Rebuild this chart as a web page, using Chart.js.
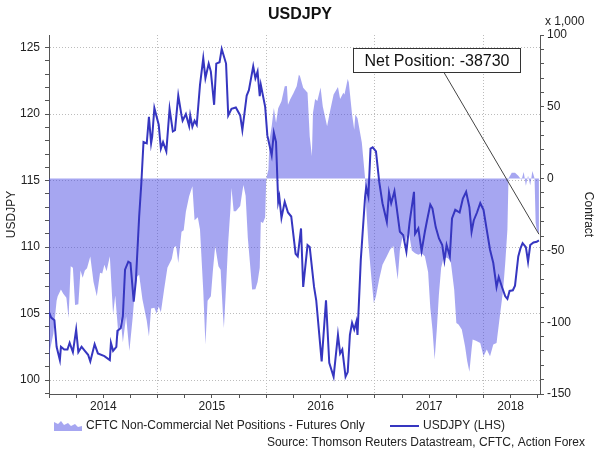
<!DOCTYPE html>
<html>
<head>
<meta charset="utf-8">
<title>USDJPY</title>
<script src="https://cdn.jsdelivr.net/npm/chart.js@4.4.1/dist/chart.umd.min.js"></script>
<style>
  html, body { margin: 0; padding: 0; background: #fff; }
  #wrap { width: 600px; height: 455px; position: relative; }
</style>
</head>
<body>
<div id="wrap"><canvas id="chart"></canvas></div>
<script>
// USDJPY spot (left axis), dates as decimal years
const usdjpyDates = [
  2014.00, 2014.02, 2014.05, 2014.07, 2014.10, 2014.11, 2014.14, 2014.17, 2014.19, 2014.22,
  2014.25, 2014.27, 2014.30, 2014.33, 2014.36, 2014.38, 2014.42, 2014.45, 2014.51, 2014.56,
  2014.57, 2014.59, 2014.62, 2014.63, 2014.66, 2014.68, 2014.70, 2014.73, 2014.75, 2014.78,
  2014.80, 2014.83, 2014.85, 2014.87, 2014.90, 2014.92, 2014.94, 2014.95, 2014.97, 2015.01,
  2015.03, 2015.05, 2015.08, 2015.11, 2015.14, 2015.16, 2015.19, 2015.22, 2015.23, 2015.26,
  2015.29, 2015.30, 2015.32, 2015.34, 2015.36, 2015.39, 2015.42, 2015.44, 2015.47, 2015.49,
  2015.52, 2015.54, 2015.57, 2015.59, 2015.63, 2015.65, 2015.68, 2015.72, 2015.76, 2015.78,
  2015.82, 2015.84, 2015.88, 2015.90, 2015.92, 2015.94, 2015.95, 2015.99, 2016.01, 2016.05,
  2016.07, 2016.09, 2016.11, 2016.12, 2016.14, 2016.17, 2016.20, 2016.23, 2016.27, 2016.29,
  2016.32, 2016.34, 2016.38, 2016.40, 2016.44, 2016.46, 2016.51, 2016.55, 2016.58, 2016.62,
  2016.66, 2016.68, 2016.70, 2016.73, 2016.75, 2016.77, 2016.79, 2016.81, 2016.83, 2016.84,
  2016.87, 2016.91, 2016.92, 2016.94, 2016.96, 2016.98, 2017.01, 2017.04, 2017.07, 2017.11,
  2017.13, 2017.15, 2017.18, 2017.20, 2017.23, 2017.26, 2017.29, 2017.32, 2017.36, 2017.37,
  2017.40, 2017.43, 2017.46, 2017.48, 2017.51, 2017.53, 2017.56, 2017.59, 2017.62, 2017.64,
  2017.66, 2017.69, 2017.71, 2017.74, 2017.78, 2017.81, 2017.84, 2017.87, 2017.89, 2017.91,
  2017.94, 2017.97, 2018.00, 2018.03, 2018.06, 2018.09, 2018.12, 2018.14, 2018.17, 2018.20,
  2018.22, 2018.24, 2018.27, 2018.29, 2018.32, 2018.34, 2018.36, 2018.39, 2018.41, 2018.43,
  2018.46, 2018.49, 2018.51
];
const usdjpyValues = [
  105.1, 104.7, 104.5, 102.5, 101.5, 102.5, 102.3, 102.3, 102.8, 102.1,
  103.8, 102.1, 102.5, 102.2, 101.9, 101.4, 102.7, 102.0, 101.8, 101.5,
  102.8, 102.2, 102.5, 103.7, 103.9, 104.8, 108.3, 108.9, 108.8, 105.9,
  107.5, 112.3, 114.8, 117.9, 117.8, 119.8, 117.8, 118.3, 120.45, 119.2,
  117.4, 117.9, 117.2, 120.4, 118.7, 118.8, 121.4, 119.9, 119.5, 120.0,
  119.1, 119.9, 119.05, 119.5, 119.2, 122.2, 124.2, 122.7, 123.8, 123.2,
  120.7, 123.8, 123.9, 124.9, 123.8, 119.9, 120.4, 120.5, 119.9, 118.8,
  121.4, 121.8, 123.6, 122.7, 123.2, 121.35, 122.2, 120.55, 118.4, 116.9,
  118.6, 117.9, 113.4, 113.8, 112.2, 113.4, 112.6, 112.3, 109.5, 109.3,
  111.4, 107.0, 110.15, 110.0, 107.0, 106.0, 101.4, 106.0, 101.3, 100.25,
  103.4, 102.0, 102.3, 100.25, 100.6, 103.4, 104.3, 103.8, 104.4, 103.4,
  109.0, 113.8, 114.5, 113.8, 117.4, 117.5, 117.2, 114.9, 113.3, 111.9,
  114.1, 113.3, 114.2, 113.0, 111.15, 110.9, 109.65, 111.9, 114.15, 111.0,
  111.4, 109.7, 111.15, 112.0, 113.2, 112.9, 111.5, 110.65, 110.15, 109.0,
  110.15, 109.3, 112.15, 112.8, 112.6, 113.65, 114.15, 113.0, 111.15, 112.0,
  112.6, 113.3, 112.8, 111.3, 109.8, 108.8, 107.0, 107.75, 107.0, 106.3,
  106.1, 106.7, 106.75, 107.1, 109.3, 109.9, 110.3, 110.0, 108.9, 110.15,
  110.35, 110.4, 110.5
];

// CFTC non-commercial net positions, thousands of contracts (right axis)
const cftcDates = [
  2014.00, 2014.01, 2014.04, 2014.07, 2014.08, 2014.11, 2014.13, 2014.16, 2014.18, 2014.20,
  2014.22, 2014.24, 2014.27, 2014.29, 2014.31, 2014.33, 2014.35, 2014.38, 2014.41, 2014.44,
  2014.47, 2014.49, 2014.51, 2014.53, 2014.56, 2014.59, 2014.61, 2014.64, 2014.66, 2014.68,
  2014.71, 2014.74, 2014.77, 2014.80, 2014.83, 2014.86, 2014.90, 2014.92, 2014.94, 2014.97,
  2014.99, 2015.01, 2015.03, 2015.06, 2015.09, 2015.13, 2015.15, 2015.17, 2015.19, 2015.22,
  2015.24, 2015.26, 2015.29, 2015.32, 2015.34, 2015.37, 2015.39, 2015.42, 2015.44, 2015.46,
  2015.49, 2015.51, 2015.53, 2015.56, 2015.58, 2015.60, 2015.61, 2015.63, 2015.65, 2015.67,
  2015.68, 2015.70, 2015.72, 2015.76, 2015.78, 2015.79, 2015.81, 2015.83, 2015.85, 2015.87,
  2015.90, 2015.92, 2015.94, 2015.95, 2015.97, 2015.99, 2016.00, 2016.02, 2016.03, 2016.05,
  2016.07, 2016.09, 2016.11, 2016.14, 2016.17, 2016.19, 2016.20, 2016.22, 2016.25, 2016.28,
  2016.30, 2016.31, 2016.34, 2016.38, 2016.40, 2016.42, 2016.43, 2016.45, 2016.47, 2016.50,
  2016.52, 2016.56, 2016.59, 2016.62, 2016.66, 2016.68, 2016.71, 2016.72, 2016.75, 2016.76,
  2016.79, 2016.81, 2016.82, 2016.84, 2016.88, 2016.91, 2016.92, 2016.94, 2016.97, 2016.99,
  2017.01, 2017.04, 2017.07, 2017.11, 2017.14, 2017.17, 2017.19, 2017.21, 2017.23, 2017.26,
  2017.28, 2017.31, 2017.34, 2017.37, 2017.40, 2017.43, 2017.46, 2017.49, 2017.51, 2017.53,
  2017.55, 2017.57, 2017.59, 2017.61, 2017.63, 2017.66, 2017.68, 2017.70, 2017.73, 2017.75,
  2017.77, 2017.80, 2017.83, 2017.85, 2017.87, 2017.89, 2017.90, 2017.93, 2017.97, 2018.00,
  2018.03, 2018.06, 2018.09, 2018.12, 2018.15, 2018.18, 2018.20, 2018.22, 2018.23, 2018.26,
  2018.29, 2018.32, 2018.35, 2018.37, 2018.39, 2018.41, 2018.43, 2018.45, 2018.47, 2018.48,
  2018.49, 2018.51
];
const cftcValues = [
  -132, -119, -108, -85, -82, -77.3, -80, -83, -97, -61,
  -62, -88, -87.5, -64, -69, -64, -62.5, -54.3, -72, -82,
  -65.5, -66, -60, -64.5, -54, -94.7, -81.4, -110, -98, -114,
  -96, -120, -97, -69, -67, -84, -99, -110, -90.5, -90,
  -94, -89, -93, -77, -62, -56, -48, -47, -58.7, -37,
  -36, -23, -12.3, -5.4, -29, -27, -35.5, -78, -115.5, -85,
  -82, -63, -47, -61, -63.4, -93, -104, -75, -44, -21.6,
  -6.5, -22.7, -22.7, -19, -9, -4.5, -12, -41, -59, -77.3,
  -77, -72, -62, -30, -31, -27, 0, 6.3, 27, 36.4,
  49.2, 38.8, 49, 53.8, 64.3, 64.5, 51.5, 55, 59.4, 64.3,
  72.4, 71.5, 63.2, 59.7, 29.5, 15.5, 45.7, 55.5, 54, 63.5,
  50.4, 36.4, 48, 58.5, 63.8, 55.5, 59.7, 58.5, 69.4, 67,
  44.6, 34.1, 44.6, 42, 25, 0, -20, -45, -71, -86.6,
  -82, -70, -60, -54, -49.4, -47, -58.7, -70.3, -50, -38,
  -44, -36, -50, -52, -53, -52, -54, -65, -90, -105,
  -126, -105, -80, -62, -56, -55, -56, -58.7, -77.3, -100.5,
  -101.6, -105, -116.8, -127.2, -134.5, -119, -112, -113, -114.4, -123.7,
  -119, -123.7, -115.6, -114.4, -96, -78, -58.7, -35.5, 0, 4,
  4, 2, -1, 4.6, -5, 2, -4.6, 5.3, 0, -31,
  -35.5, -38.73
];

// axis labels
const yearLabels = ['2014', '2015', '2016', '2017', '2018'];
const yearLabelAt = [2014.5, 2015.5, 2016.5, 2017.5, 2018.25];
const leftTickLabels = [100, 105, 110, 115, 120, 125];
const rightTickLabels = [-150, -100, -50, 0, 50, 100];

const FONT = "'Liberation Sans', Arial, sans-serif";
const LINE_COLOR = '#3636c0';
const FILL_COLOR = 'rgba(70, 70, 225, 0.48)';
const GRID_COLOR = '#bcbcbc';
const AXIS_COLOR = '#555';
const TEXT_COLOR = '#222';

Chart.defaults.font.family = FONT;
Chart.defaults.font.size = 12;
Chart.defaults.color = TEXT_COLOR;

const toPoints = (dates, values) => dates.map((d, i) => ({ x: d, y: values[i] }));

// range of values for tick marks
function range(from, to, step) {
  const out = [];
  for (let v = from; v <= to + 1e-9; v += step) out.push(Math.round(v * 100) / 100);
  return out;
}

const decorations = {
  id: 'decorations',
  afterDatasetsDraw(chart) {
    const { ctx, scales } = chart;
    const last = cftcValues.length - 1;
    const px = scales.x.getPixelForValue(cftcDates[last]);
    const py = scales.y1.getPixelForValue(cftcValues[last]);
    const box = { x: 353.5, y: 48.5, w: 167, h: 24 };

    ctx.save();
    ctx.strokeStyle = '#444';
    ctx.lineWidth = 1;
    ctx.beginPath();
    ctx.moveTo(444, box.y + box.h);
    ctx.lineTo(px, py);
    ctx.stroke();

    ctx.fillStyle = '#fff';
    ctx.fillRect(box.x, box.y, box.w, box.h);
    ctx.strokeStyle = '#333';
    ctx.strokeRect(box.x, box.y, box.w, box.h);
    ctx.fillStyle = '#111';
    ctx.font = '16px ' + FONT;
    ctx.textAlign = 'center';
    ctx.textBaseline = 'middle';
    ctx.fillText('Net Position: ' + Math.round(cftcValues[last] * 1000), box.x + box.w / 2, box.y + box.h / 2 + 1);
    ctx.restore();
  },
  afterDraw(chart) {
    const { ctx } = chart;
    ctx.save();
    ctx.fillStyle = '#111';
    ctx.font = 'bold 16px ' + FONT;
    ctx.textAlign = 'center';
    ctx.textBaseline = 'middle';
    ctx.fillText('USDJPY', 300, 15);

    ctx.font = '12px ' + FONT;
    ctx.fillStyle = TEXT_COLOR;
    ctx.textAlign = 'left';
    ctx.fillText('x 1,000', 545, 22);

    // legend: area swatch
    const ly = 426;
    ctx.fillStyle = FILL_COLOR;
    ctx.beginPath();
    ctx.moveTo(54, ly + 5);
    ctx.lineTo(54, ly - 4);
    ctx.lineTo(58, ly - 2);
    ctx.lineTo(61, ly - 5);
    ctx.lineTo(64, ly - 1);
    ctx.lineTo(68, ly - 3);
    ctx.lineTo(71, ly);
    ctx.lineTo(75, ly - 2);
    ctx.lineTo(78, ly + 1);
    ctx.lineTo(82, ly);
    ctx.lineTo(82, ly + 5);
    ctx.closePath();
    ctx.fill();
    ctx.fillStyle = TEXT_COLOR;
    ctx.fillText(chart.data.datasets[1].label, 86, ly);

    ctx.strokeStyle = LINE_COLOR;
    ctx.lineWidth = 2;
    ctx.beginPath();
    ctx.moveTo(390, ly);
    ctx.lineTo(419, ly);
    ctx.stroke();
    ctx.fillText(chart.data.datasets[0].label, 423, ly);

    ctx.textAlign = 'right';
    ctx.fillText('Source: Thomson Reuters Datastream, CFTC, Action Forex', 585, 443);
    ctx.restore();
  }
};

new Chart(document.getElementById('chart'), {
  type: 'line',
  data: {
    datasets: [
      {
        label: 'USDJPY (LHS)',
        data: toPoints(usdjpyDates, usdjpyValues),
        yAxisID: 'y',
        borderColor: LINE_COLOR,
        borderWidth: 2,
        pointRadius: 0,
        tension: 0,
        fill: false,
        order: 0
      },
      {
        label: 'CFTC Non-Commercial Net Positions - Futures Only',
        data: toPoints(cftcDates, cftcValues),
        yAxisID: 'y1',
        borderWidth: 0,
        borderColor: 'rgba(0,0,0,0)',
        backgroundColor: FILL_COLOR,
        pointRadius: 0,
        tension: 0,
        fill: { value: 0 },
        order: 1
      }
    ]
  },
  options: {
    responsive: true,
    maintainAspectRatio: false,
    animation: false,
    layout: { padding: { top: 35, left: 0, right: 0, bottom: 0 } },
    plugins: {
      legend: { display: false },
      title: { display: false },
      tooltip: { enabled: false }
    },
    scales: {
      x: {
        type: 'linear',
        position: 'bottom',
        min: 2014,
        max: 2018.52,
        afterBuildTicks: s => { s.ticks = range(2014, 2018.5, 0.25).map(v => ({ value: v })); },
        afterFit: s => { s.height = 61; },
        ticks: {
          autoSkip: false,
          maxRotation: 0,
          padding: 1,
          callback: v => {
            const i = yearLabelAt.findIndex(p => Math.abs(p - v) < 1e-6);
            return i >= 0 ? yearLabels[i] : '';
          }
        },
        grid: {
          color: c => (Number.isInteger(c.tick.value) && c.tick.value > 2014) ? GRID_COLOR : 'rgba(0,0,0,0)',
          tickColor: AXIS_COLOR,
          tickLength: 4
        },
        border: { color: AXIS_COLOR, width: 1, dash: [1, 2] }
      },
      y: {
        type: 'linear',
        position: 'left',
        min: 98.95,
        max: 125.95,
        afterBuildTicks: s => { s.ticks = range(99, 125, 1).map(v => ({ value: v })); },
        afterFit: s => { s.width = 49; },
        ticks: {
          autoSkip: false,
          padding: 5,
          callback: v => leftTickLabels.includes(v) ? String(v) : ''
        },
        grid: {
          color: c => leftTickLabels.includes(c.tick.value) ? GRID_COLOR : 'rgba(0,0,0,0)',
          tickColor: AXIS_COLOR,
          tickLength: 4
        },
        border: { color: AXIS_COLOR, width: 1, dash: [1, 2] },
        title: { display: true, text: 'USDJPY', padding: { top: 4, bottom: 0 } }
      },
      y1: {
        type: 'linear',
        position: 'right',
        min: -150,
        max: 100,
        afterBuildTicks: s => { s.ticks = range(-150, 100, 10).map(v => ({ value: v })); },
        afterFit: s => { s.width = 60; },
        ticks: {
          autoSkip: false,
          padding: 3,
          callback: v => rightTickLabels.includes(v) ? String(v) : ''
        },
        grid: {
          drawOnChartArea: false,
          tickColor: AXIS_COLOR,
          tickLength: 4
        },
        border: { color: AXIS_COLOR, width: 1 },
        title: { display: true, text: 'Contract', padding: { top: 4, bottom: 0 } }
      }
    }
  },
  plugins: [decorations]
});
</script>
</body>
</html>
